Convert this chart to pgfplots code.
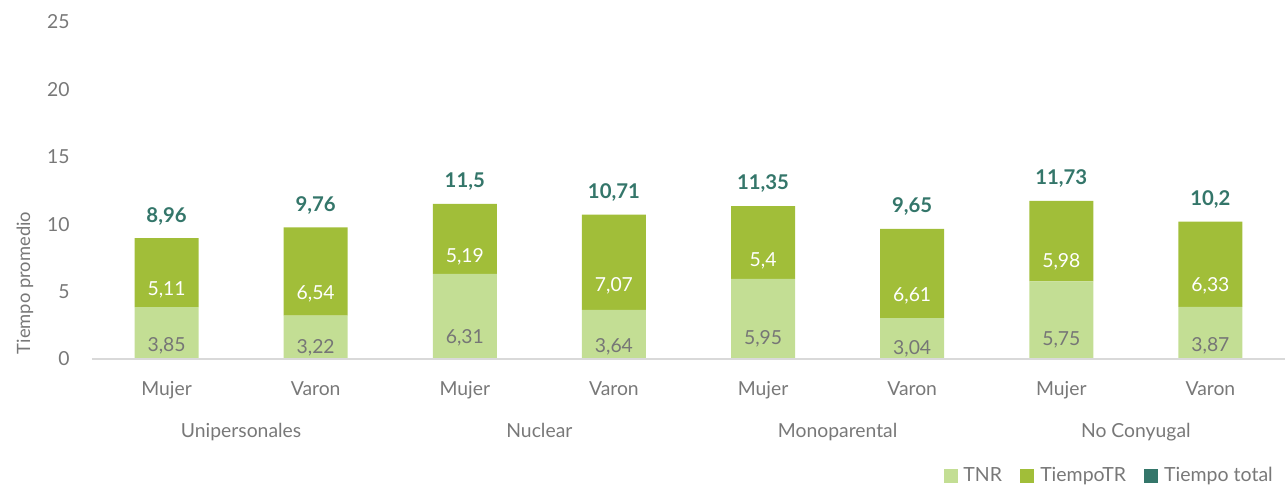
\documentclass[border=0pt]{standalone}
\usepackage{pgfplots}
\pgfplotsset{compat=1.18}
\usepackage{fontspec}
\setmainfont{Lato}
\definecolor{cTNR}{RGB}{195,222,148}
\definecolor{cTR}{RGB}{161,190,57}
\definecolor{cTot}{RGB}{52,118,106}
\definecolor{cTxt}{RGB}{120,120,120}
\definecolor{cLbl}{RGB}{118,118,118}
\definecolor{cAx}{RGB}{217,217,217}
\newcommand{\fs}{\fontsize{11.6}{14}\selectfont}
\pgfplotsset{
  common/.style={
    at={(0,0)}, anchor=south west,
    scale only axis, width=715.8pt, height=202.2pt,
    xmin=-0.5, xmax=7.5, ymin=0, ymax=25,
    clip=false,
    /pgf/number format/.cd, use comma, 1000 sep={}, assume math mode=true,
    /pgfplots/.cd,
  }
}
\begin{document}
\begin{tikzpicture}[x=1pt,y=1pt]
\path[use as bounding box] (-55.2,-76.2) rectangle (717.6,215.4);
\begin{axis}[
  common,
  ybar stacked, bar width=38.4pt,
  axis line style={draw=none},
  tick style={draw=none},
  xtick={0,1,2,3,4,5,6,7},
  xticklabels={Mujer,Varon,Mujer,Varon,Mujer,Varon,Mujer,Varon},
  ytick={0,5,10,15,20,25},
  xticklabel style={anchor=base, yshift=-21.6pt, inner sep=0pt, font=\fs, text=cTxt},
  yticklabel style={anchor=east, xshift=-13.2pt, inner sep=0pt, font=\fs, text=cTxt},
  legend columns=3,
  legend style={at={(rel axis cs:0.997,-0.347)}, anchor=east, draw=none, fill=none,
    font=\fontsize{11.7}{13}\selectfont, text=cTxt,
    /tikz/every even column/.append style={column sep=9pt},
    /tikz/every odd column/.append style={column sep=1.5pt}},
  legend image code/.code={\fill[#1] (0pt,-4.2pt) rectangle (8.4pt,4.2pt);},
]
\draw[cAx, line width=1pt] (rel axis cs:0,0) -- (rel axis cs:1,0);
\addplot[fill=cTNR, draw=none,
  visualization depends on={rawy \as \rawy},
  nodes near coords,
  nodes near coords style={anchor=center, yshift={-0.25*\rawy*8.088pt}, text=cLbl, font=\fs, inner sep=0pt}]
  coordinates {(0,3.85) (1,3.22) (2,6.31) (3,3.64) (4,5.95) (5,3.04) (6,5.75) (7,3.87)};
\addlegendentry{TNR}
\addplot[fill=cTR, draw=none,
  visualization depends on={rawy \as \rawy},
  nodes near coords,
  nodes near coords style={anchor=center, yshift={-0.25*\rawy*8.088pt}, text=white, font=\fs, inner sep=0pt}]
  coordinates {(0,5.11) (1,6.54) (2,5.19) (3,7.07) (4,5.4) (5,6.61) (6,5.98) (7,6.33)};
\addlegendentry{TiempoTR}
\addplot[fill=cTot, draw=none]
  coordinates {(0,0) (1,0) (2,0) (3,0) (4,0) (5,0) (6,0) (7,0)};
\addlegendentry{Tiempo total}
\node[anchor=base, text=cTxt, font=\fs, inner sep=0pt] at ([yshift=-46.8pt]axis cs:0.5,0) {Unipersonales};
\node[anchor=base, text=cTxt, font=\fs, inner sep=0pt] at ([yshift=-46.8pt]axis cs:2.5,0) {Nuclear};
\node[anchor=base, text=cTxt, font=\fs, inner sep=0pt] at ([yshift=-46.8pt]axis cs:4.5,0) {Monoparental};
\node[anchor=base, text=cTxt, font=\fs, inner sep=0pt] at ([yshift=-46.8pt]axis cs:6.5,0) {No Conyugal};
\node[rotate=90, text=cTxt, font=\fontsize{11}{13}\selectfont, inner sep=0pt] at ([xshift=-40.2pt]rel axis cs:0,0.2255) {Tiempo promedio};
\end{axis}
\begin{axis}[common, hide axis]
\addplot[draw=none, mark=none, point meta=y,
  nodes near coords,
  nodes near coords style={anchor=base, yshift=9.6pt, text=cTot, font=\fontsize{12.2}{14}\selectfont\bfseries, inner sep=0pt}]
  coordinates {(0,8.96) (1,9.76) (2,11.5) (3,10.71) (4,11.35) (5,9.65) (6,11.73) (7,10.2)};
\end{axis}
\end{tikzpicture}
\end{document}
